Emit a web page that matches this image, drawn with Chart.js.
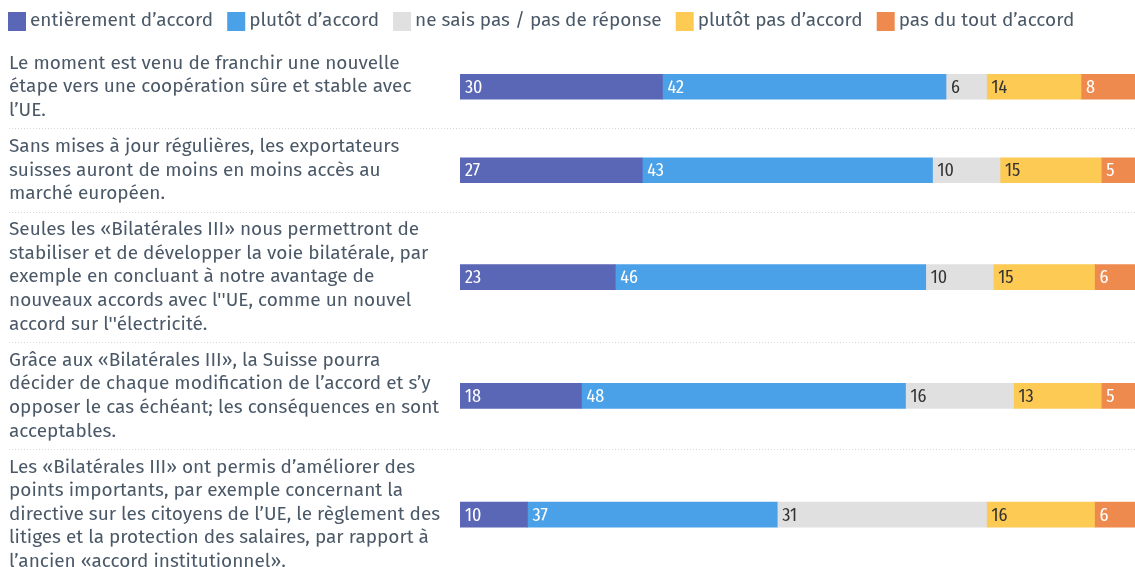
<!DOCTYPE html>
<html>
<head>
<meta charset="utf-8">
<script src="https://cdn.jsdelivr.net/npm/chart.js@4"></script>
<style>
  html, body { margin: 0; padding: 0; background: #fff; }
  #wrap { width: 1135px; height: 567px; }
</style>
</head>
<body>
<div id="wrap"><canvas id="chart"></canvas></div>
<script>
/* ============================
   DONNÉES
============================ */
const QUESTIONS = [
    ["Le moment est venu de franchir une nouvelle",
     "étape vers une coopération sûre et stable avec",
     "l’UE."],
    ["Sans mises à jour régulières, les exportateurs",
     "suisses auront de moins en moins accès au",
     "marché européen."],
    ["Seules les «Bilatérales III» nous permettront de",
     "stabiliser et de développer la voie bilatérale, par",
     "exemple en concluant à notre avantage de",
     "nouveaux accords avec l''UE, comme un nouvel",
     "accord sur l''électricité."],
    ["Grâce aux «Bilatérales III», la Suisse pourra",
     "décider de chaque modification de l’accord et s’y",
     "opposer le cas échéant; les conséquences en sont",
     "acceptables."],
    ["Les «Bilatérales III» ont permis d’améliorer des",
     "points importants, par exemple concernant la",
     "directive sur les citoyens de l’UE, le règlement des",
     "litiges et la protection des salaires, par rapport à",
     "l’ancien «accord institutionnel»."]
];

const SERIES = ["entièrement d’accord", "plutôt d’accord",
                "ne sais pas / pas de réponse", "plutôt pas d’accord",
                "pas du tout d’accord"];

const ENTIEREMENT = [30, 27, 23, 18, 10];
const PLUTOT      = [42, 43, 46, 48, 37];
const NE_SAIS_PAS = [6, 10, 10, 16, 31];
const PLUTOT_PAS  = [14, 15, 15, 13, 16];
const PAS_DU_TOUT = [8, 5, 6, 5, 6];

const COLORS     = ["#5a66b6", "#4aa1e8", "#e0e0e0", "#fdca53", "#ef8a4f"];
const VAL_COLORS = ["#ffffff", "#ffffff", "#333333", "#333333", "#ffffff"];

/* ============================
   MISE EN PAGE DES LIGNES
   (hauteur d'une ligne = nb de lignes de texte + marge)
============================ */
const PAD = 0.55;
const rowStart = [];
const rowCenter = [];
let cum = 0;
QUESTIONS.forEach(q => {
    rowStart.push(cum);
    rowCenter.push(cum + (q.length + PAD) / 2);
    cum += q.length + PAD;
});
const Y_MAX = cum - PAD;

const TEXT_COLOR = "#4a5867";
const FONT = "'Fira Sans', 'Open Sans', sans-serif";
const NUM_FONT = "'Fira Sans Condensed', 'Fira Sans', 'Roboto', sans-serif";

const allValues = [ENTIEREMENT, PLUTOT, NE_SAIS_PAS, PLUTOT_PAS, PAS_DU_TOUT];

/* ============================
   PLUGINS
============================ */
const separators = {
    id: "separators",
    beforeDatasetsDraw(chart) {
        const { ctx, chartArea, scales } = chart;
        ctx.save();
        ctx.strokeStyle = "#d6d6d6";
        ctx.lineWidth = 1;
        ctx.setLineDash([1, 2]);
        rowStart.slice(1).forEach(v => {
            const y = Math.round(scales.y.getPixelForValue(v)) + 0.5;
            ctx.beginPath();
            ctx.moveTo(9, y);
            ctx.lineTo(chartArea.right, y);
            ctx.stroke();
        });
        ctx.restore();
    }
};

// textes des questions, centrés sur chaque barre
const questionLabels = {
    id: "questionLabels",
    afterDraw(chart) {
        const { ctx, scales } = chart;
        const lh = scales.y.getPixelForValue(1) - scales.y.getPixelForValue(0);
        ctx.save();
        ctx.font = "19px " + FONT;
        ctx.fillStyle = TEXT_COLOR;
        ctx.textBaseline = "middle";
        ctx.textAlign = "left";
        QUESTIONS.forEach((lines, i) => {
            const yc = scales.y.getPixelForValue(rowCenter[i]);
            const y0 = yc - (lines.length - 1) * lh / 2;
            lines.forEach((t, k) => ctx.fillText(t, 9, y0 + k * lh));
        });
        ctx.restore();
    }
};

const valueLabels = {
    id: "valueLabels",
    afterDatasetsDraw(chart) {
        const { ctx } = chart;
        ctx.save();
        ctx.font = "18px " + NUM_FONT;
        ctx.textBaseline = "middle";
        ctx.textAlign = "left";
        chart.data.datasets.forEach((ds, i) => {
            ctx.fillStyle = VAL_COLORS[i];
            chart.getDatasetMeta(i).data.forEach((bar, j) => {
                const left = Math.min(bar.x, bar.base);
                ctx.fillText(String(allValues[i][j]), left + 5, bar.y + 1);
            });
        });
        ctx.restore();
    }
};

const topLegend = {
    id: "topLegend",
    afterDraw(chart) {
        const { ctx } = chart;
        ctx.save();
        ctx.font = "19px " + FONT;
        ctx.textBaseline = "middle";
        ctx.textAlign = "left";
        let x = 8;
        const yc = 21;
        SERIES.forEach((name, i) => {
            ctx.fillStyle = COLORS[i];
            ctx.fillRect(x, yc - 9, 18, 19);
            x += 22;
            ctx.fillStyle = TEXT_COLOR;
            ctx.fillText(name, x, yc);
            x += ctx.measureText(name).width + 14;
        });
        ctx.restore();
    }
};

/* ============================
   GRAPHIQUE
============================ */
new Chart(document.getElementById("chart"), {
    type: "bar",
    data: {
        datasets: SERIES.map((name, i) => ({
            label: name,
            data: allValues[i].map((v, j) => ({ x: v, y: rowCenter[j] })),
            backgroundColor: COLORS[i],
            borderWidth: 0,
            barThickness: 25
        }))
    },
    options: {
        indexAxis: "y",
        responsive: true,
        maintainAspectRatio: false,
        animation: false,
        layout: { padding: { top: 45, left: 460, right: 0, bottom: 0 } },
        scales: {
            x: { stacked: true, min: 0, max: 100, display: false },
            y: {
                type: "linear",
                stacked: true,
                reverse: true,
                offset: false,
                min: 0,
                max: Y_MAX,
                display: false
            }
        },
        plugins: {
            legend: { display: false },
            tooltip: { enabled: false }
        }
    },
    plugins: [separators, valueLabels, questionLabels, topLegend]
});
</script>
</body>
</html>
